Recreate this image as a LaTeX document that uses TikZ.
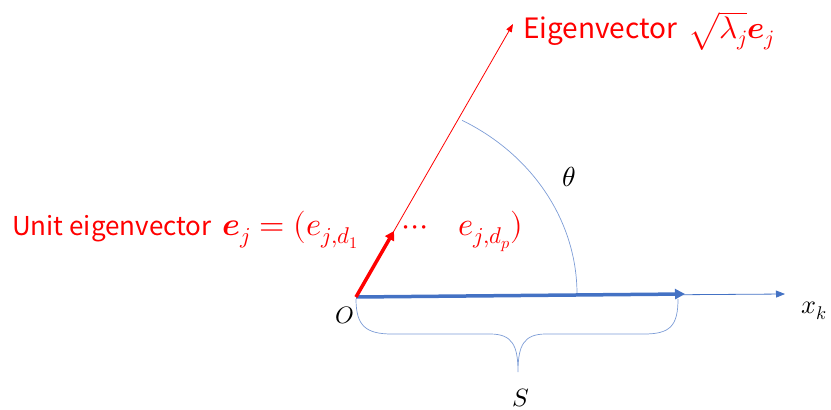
\documentclass[tikz,border=0pt]{standalone}
\usepackage{amsmath}
\usepackage{fontspec}
\usepackage{unicode-math}
\setmainfont{Noto Sans CJK JP}
\setmathfont{Latin Modern Math}[Scale=1.25]
\usetikzlibrary{arrows.meta}
\definecolor{myred}{RGB}{255,0,0}
\definecolor{myblue}{RGB}{68,114,196}
\tikzset{
  redthin/.style={draw=myred, line width=0.8pt, -{Triangle[length=8pt,width=6pt]}},
  redthick/.style={draw=myred, line width=3.5pt, -{Triangle[length=9pt,width=10pt]}},
  bluethick/.style={draw=myblue, line width=3.5pt, -{Triangle[length=10pt,width=10pt]}},
  bluethin/.style={draw=myblue, line width=0.8pt, -{Triangle[length=9pt,width=7pt]}},
  guide/.style={draw=myblue!70, line width=0.7pt},
  redlbl/.style={inner sep=0pt, text=myred, anchor=base west, font=\fontsize{26}{30}\selectfont},
  mlbl/.style={inner sep=0pt, anchor=center, font=\fontsize{20}{24}\selectfont},
}
\begin{document}
\begin{tikzpicture}[x=1pt,y=-1pt]
\useasboundingbox (0,0) rectangle (831,410);
\coordinate (O) at (356,297);
\coordinate (E) at (513,24);
\coordinate (U) at (394,231);
\coordinate (B) at (685,294);
\coordinate (X) at (785,294);
\coordinate (A0) at (577,294);
% angle arc
\draw[guide] (A0) arc[start angle=0, end angle=-61.3, x radius=221, y radius=198];
% vectors
\draw[redthin] (O) -- (E);
\draw[bluethin] (O) -- (X);
\draw[bluethick] (O) -- (B);
\draw[redthick] (O) -- (U);
% brace
\coordinate (BL) at (356,299);
\coordinate (BR) at (678,299);
\coordinate (BM) at (518,372);
\draw[guide] (BL) .. controls (356,326) and (366,334) .. (392,334) -- (490,334)
  .. controls (512,334) and (518,345) .. (BM)
  .. controls (518,345) and (524,334) .. (546,334) -- (644,334)
  .. controls (670,334) and (678,326) .. (BR);
% labels
\node[redlbl] (ulab) at (12,235) {Unit eigenvector};
\node[redlbl] (umath) at (222,235) {$\symbfit{e}_j=(e_{j,d_1}$};
\node[redlbl] (dots) at (402,235) {$\cdots$};
\node[redlbl] (elast) at (458,235) {$e_{j,d_p})$};
\node[redlbl, font=\fontsize{28}{30}\selectfont] (elab) at (523,38) {Eigenvector};
\node[redlbl, font=\fontsize{25}{30}\selectfont] (emath) at (688,38) {$\sqrt{\lambda_j}\symbfit{e}_j$};
\node[mlbl, font=\fontsize{22}{24}\selectfont] (theta) at (569,177) {$\theta$};
\node[mlbl, font=\fontsize{19}{24}\selectfont] (olab) at (345,315) {$O$};
\node[mlbl, anchor=base west, font=\fontsize{21}{24}\selectfont] (xk) at (801,313) {$x_k$};
\node[mlbl, font=\fontsize{20}{24}\selectfont] (slab) at (521,398) {$S$};
\end{tikzpicture}
\end{document}
